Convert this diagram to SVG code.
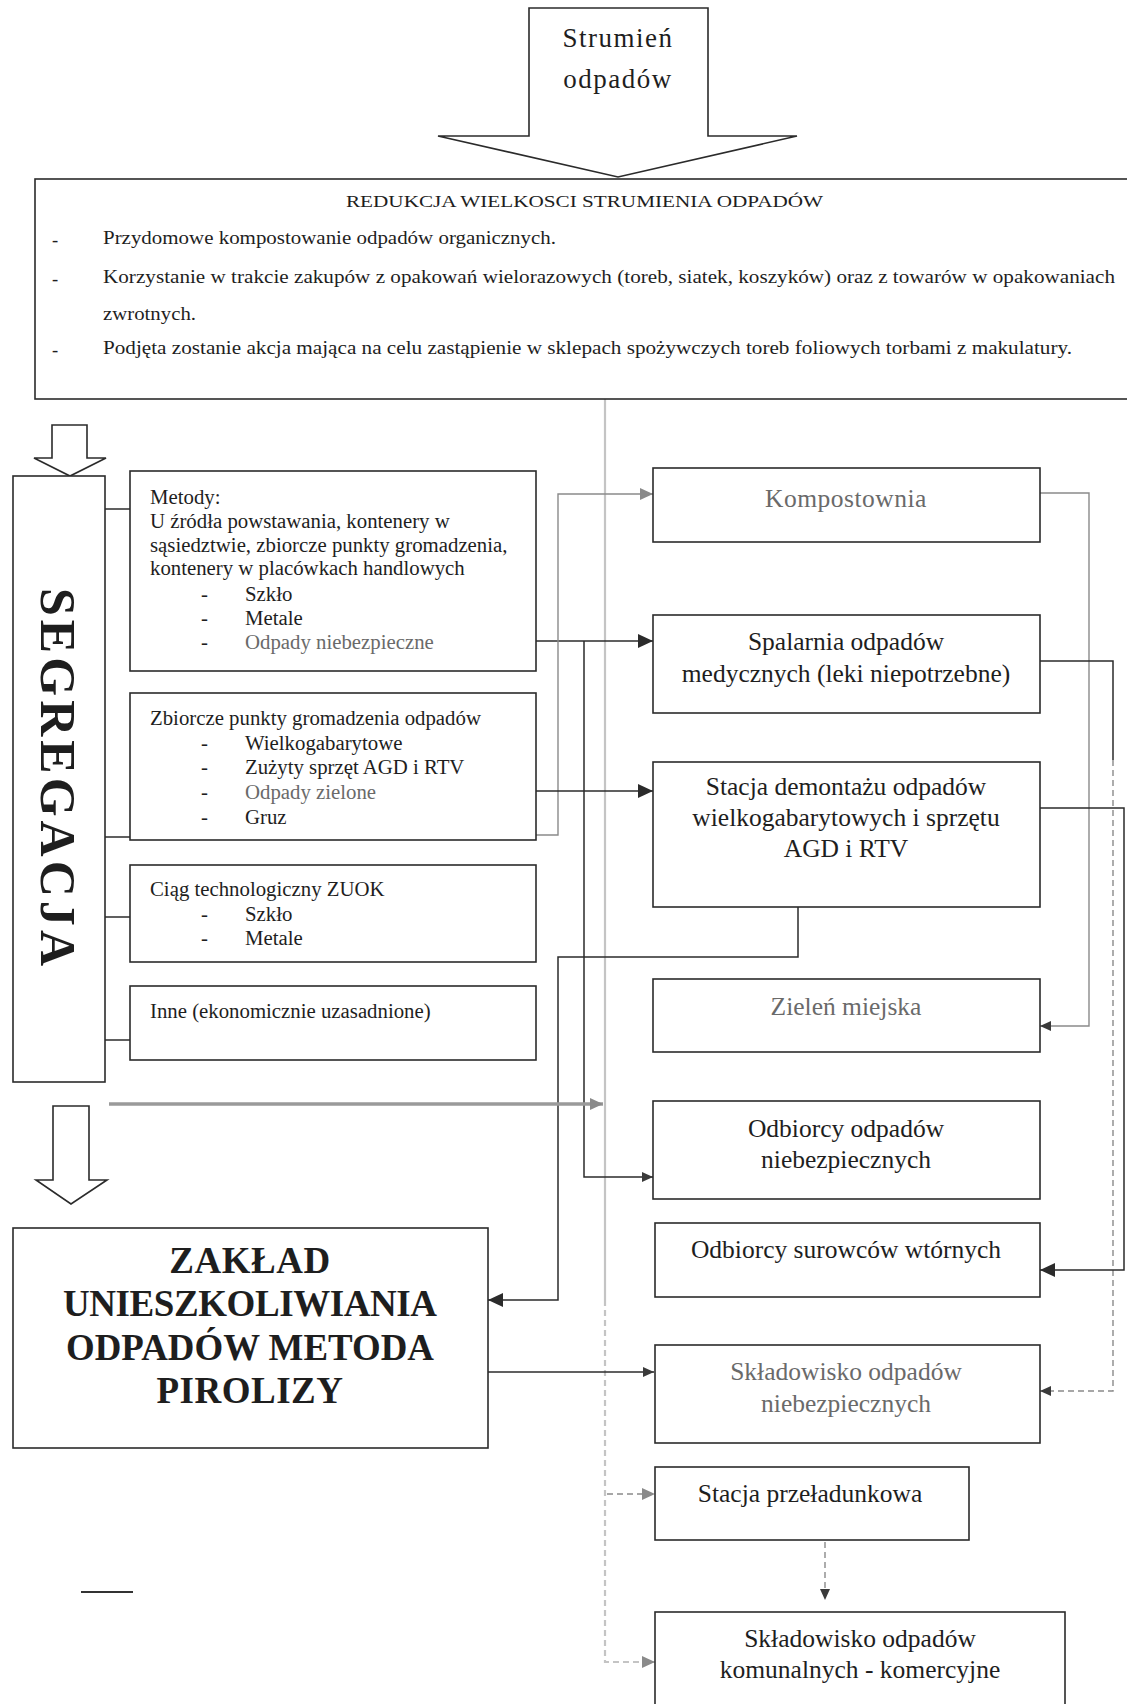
<svg xmlns="http://www.w3.org/2000/svg" width="1127" height="1704" viewBox="0 0 1127 1704">
<defs>
<style>
.box{fill:#fff;stroke:#2b2b2b;stroke-width:1.6}
.blk{fill:none;stroke:#2b2b2b;stroke-width:1.6}
.t{font-family:"Liberation Serif","Times New Roman",serif;fill:#1e1e1e}
.s17{font-size:18.5px}
.s20{font-size:20.8px}
.s25{font-size:25.5px}
.c{text-anchor:middle}
.fade{fill:#6a6a6a}
.con{fill:none;stroke:#2b2b2b;stroke-width:1.5}
.gray{fill:none;stroke:#8a8a8a;stroke-width:1.4}
.lgray{fill:none;stroke:#c4c4c4;stroke-width:2.2}
.dash{stroke-dasharray:6 4}
.bold{font-weight:bold}
</style>
<marker id="aBig" markerUnits="userSpaceOnUse" markerWidth="16" markerHeight="14" refX="15" refY="7" orient="auto"><path d="M0,0 L15,7 L0,14 z" fill="#2b2b2b"/></marker>
<marker id="aSm" markerUnits="userSpaceOnUse" markerWidth="12" markerHeight="10" refX="11" refY="5" orient="auto"><path d="M0,0 L11,5 L0,10 z" fill="#3a3a3a"/></marker>
<marker id="aGray" markerUnits="userSpaceOnUse" markerWidth="14" markerHeight="12" refX="13" refY="6" orient="auto"><path d="M0,0 L13,6 L0,12 z" fill="#8a8a8a"/></marker>
</defs>
<rect width="1127" height="1704" fill="#fff"/>

<g id="connectors">
<path class="lgray" d="M605,399 V1300"/>
<path class="lgray dash" d="M605,1300 V1662 H655" marker-end="url(#aGray)"/>
<path class="gray dash" d="M607,1494 H655" marker-end="url(#aGray)"/>
<path class="con" d="M536,641 H653" marker-end="url(#aBig)"/>
<path class="con" d="M584,641 V1177 H653" marker-end="url(#aSm)"/>
<path class="gray" d="M536,835 H558 V494 H653" marker-end="url(#aGray)"/>
<path class="con" d="M536,791 H653" marker-end="url(#aBig)"/>
<path class="con" d="M798,907 V957 H558 V1300 H488" marker-end="url(#aBig)"/>
<path d="M109,1104 H603" fill="none" stroke="#9a9a9a" stroke-width="3.5" marker-end="url(#aGray)"/>
<path class="con" d="M488,1372 H654" marker-end="url(#aSm)"/>
<path class="gray" d="M1040,493 H1089 V1026 H1040" marker-end="url(#aSm)"/>
<path class="con" d="M1040,661 H1113 V760"/>
<path class="gray dash" d="M1113,760 V1391 H1040" marker-end="url(#aSm)"/>
<path class="con" d="M1040,808 H1124 V1270 H1040" marker-end="url(#aBig)"/>
<path class="gray dash" d="M825,1542 V1600" marker-end="url(#aSm)"/>
<path class="con" d="M105,509 H130"/>
<path class="con" d="M105,837 H130"/>
<path class="con" d="M105,917 H130"/>
<path class="con" d="M105,1040 H130"/>
<path d="M81,1592 H133" stroke="#333" stroke-width="2"/>
</g>

<g id="strumien">
<polygon class="blk" points="529,8 708,8 708,136 797,136 618,177 438,136 529,136"/>
<text class="t c" x="618" y="47" font-size="27" letter-spacing="1.5">Strumień</text>
<text class="t c" x="618" y="88" font-size="27" letter-spacing="1.5">odpadów</text>
</g>

<g id="redukcja">
<rect class="box" x="35" y="179" width="1100" height="220"/>
<text class="t" x="346" y="207" font-size="17.5" textLength="477" lengthAdjust="spacingAndGlyphs">REDUKCJA WIELKOSCI STRUMIENIA ODPADÓW</text>
<text class="t s17" x="52" y="246">-</text>
<text class="t s17" x="103" y="244" textLength="453" lengthAdjust="spacingAndGlyphs">Przydomowe kompostowanie odpadów organicznych.</text>
<text class="t s17" x="52" y="285">-</text>
<text class="t s17" x="103" y="283" textLength="1012" lengthAdjust="spacingAndGlyphs">Korzystanie w trakcie zakupów z opakowań wielorazowych (toreb, siatek, koszyków) oraz z towarów w opakowaniach</text>
<text class="t s17" x="103" y="320" textLength="93" lengthAdjust="spacingAndGlyphs">zwrotnych.</text>
<text class="t s17" x="52" y="356">-</text>
<text class="t s17" x="103" y="354" textLength="969" lengthAdjust="spacingAndGlyphs">Podjęta zostanie akcja mająca na celu zastąpienie w sklepach spożywczych toreb foliowych torbami z makulatury.</text>
</g>

<g id="segregacja">
<polygon class="blk" points="52,425 87,425 87,458 106,458 70,476 34,458 52,458"/>
<rect class="box" x="13" y="476" width="92" height="606"/>
<text class="t bold" transform="translate(41,588) rotate(90)" font-size="50" textLength="378" lengthAdjust="spacing">SEGREGACJA</text>
</g>

<g id="metody">
<rect class="box" x="130" y="471" width="406" height="200"/>
<text class="t s20" x="150" y="504">Metody:</text>
<text class="t s20" x="150" y="528">U źródła powstawania, kontenery w</text>
<text class="t s20" x="150" y="552">sąsiedztwie, zbiorcze punkty gromadzenia,</text>
<text class="t s20" x="150" y="575">kontenery w placówkach handlowych</text>
<text class="t s20" x="201" y="601">-</text><text class="t s20" x="245" y="601">Szkło</text>
<text class="t s20" x="201" y="625">-</text><text class="t s20" x="245" y="625">Metale</text>
<text class="t s20" x="201" y="649">-</text><text class="t s20 fade" x="245" y="649">Odpady niebezpieczne</text>
</g>

<g id="zbiorcze">
<rect class="box" x="130" y="693" width="406" height="147"/>
<text class="t s20" x="150" y="725">Zbiorcze punkty gromadzenia odpadów</text>
<text class="t s20" x="201" y="750">-</text><text class="t s20" x="245" y="750">Wielkogabarytowe</text>
<text class="t s20" x="201" y="774">-</text><text class="t s20" x="245" y="774">Zużyty sprzęt AGD i RTV</text>
<text class="t s20" x="201" y="799">-</text><text class="t s20 fade" x="245" y="799">Odpady zielone</text>
<text class="t s20" x="201" y="824">-</text><text class="t s20" x="245" y="824">Gruz</text>
</g>

<g id="ciag">
<rect class="box" x="130" y="865" width="406" height="97"/>
<text class="t s20" x="150" y="896">Ciąg technologiczny ZUOK</text>
<text class="t s20" x="201" y="921">-</text><text class="t s20" x="245" y="921">Szkło</text>
<text class="t s20" x="201" y="945">-</text><text class="t s20" x="245" y="945">Metale</text>
</g>

<g id="inne">
<rect class="box" x="130" y="986" width="406" height="74"/>
<text class="t s20" x="150" y="1018">Inne (ekonomicznie uzasadnione)</text>
</g>

<g id="zaklad">
<polygon class="blk" points="53,1106 89,1106 89,1180 107,1180 71,1204 36,1180 53,1180"/>
<rect class="box" x="13" y="1228" width="475" height="220"/>
<text class="t c bold" x="250" y="1273" font-size="37" letter-spacing="0.5">ZAKŁAD</text>
<text class="t c bold" x="250" y="1316" font-size="37" textLength="374" lengthAdjust="spacing">UNIESZKOLIWIANIA</text>
<text class="t c bold" x="250" y="1360" font-size="37" textLength="368" lengthAdjust="spacingAndGlyphs">ODPADÓW METODA</text>
<text class="t c bold" x="250" y="1403" font-size="37" letter-spacing="0.5">PIROLIZY</text>
</g>

<g id="kompostownia">
<rect class="box" x="653" y="468" width="387" height="74"/>
<text class="t s25 c fade" x="846" y="507" letter-spacing="0.5">Kompostownia</text>
</g>

<g id="spalarnia">
<rect class="box" x="653" y="615" width="387" height="98"/>
<text class="t s25 c" x="846" y="650">Spalarnia odpadów</text>
<text class="t s25 c" x="846" y="682">medycznych (leki niepotrzebne)</text>
</g>

<g id="demontaz">
<rect class="box" x="653" y="762" width="387" height="145"/>
<text class="t s25 c" x="846" y="795">Stacja demontażu odpadów</text>
<text class="t s25 c" x="846" y="826">wielkogabarytowych i sprzętu</text>
<text class="t s25 c" x="846" y="857">AGD i RTV</text>
</g>

<g id="zielen">
<rect class="box" x="653" y="979" width="387" height="73"/>
<text class="t s25 c fade" x="846" y="1015">Zieleń miejska</text>
</g>

<g id="odbiorcy-niebezp">
<rect class="box" x="653" y="1101" width="387" height="98"/>
<text class="t s25 c" x="846" y="1137">Odbiorcy odpadów</text>
<text class="t s25 c" x="846" y="1168">niebezpiecznych</text>
</g>

<g id="odbiorcy-surowcow">
<rect class="box" x="655" y="1223" width="385" height="74"/>
<text class="t s25 c" x="846" y="1258">Odbiorcy surowców wtórnych</text>
</g>

<g id="skladowisko-niebezp">
<rect class="box" x="655" y="1345" width="385" height="98"/>
<text class="t s25 c fade" x="846" y="1380">Składowisko odpadów</text>
<text class="t s25 c fade" x="846" y="1412">niebezpiecznych</text>
</g>

<g id="przeladunkowa">
<rect class="box" x="655" y="1467" width="314" height="73"/>
<text class="t s25 c" x="810" y="1502">Stacja przeładunkowa</text>
</g>

<g id="skladowisko-kom">
<rect class="box" x="655" y="1612" width="410" height="110"/>
<text class="t s25 c" x="860" y="1647">Składowisko odpadów</text>
<text class="t s25 c" x="860" y="1678">komunalnych - komercyjne</text>
</g>
</svg>
